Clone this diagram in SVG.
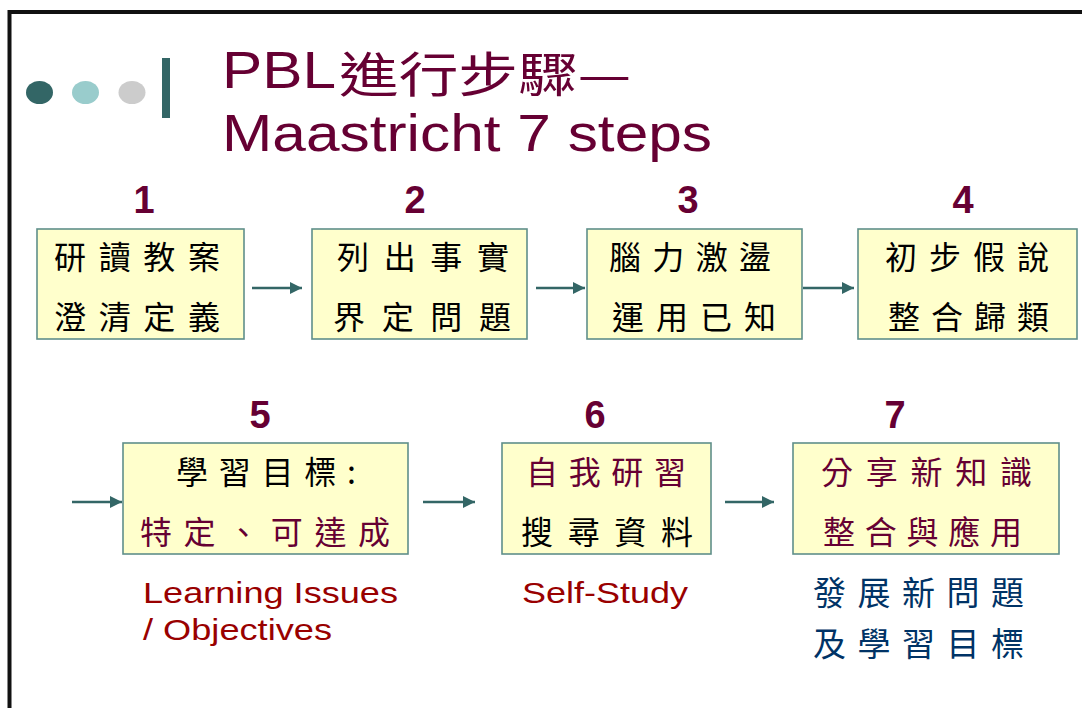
<svg xmlns="http://www.w3.org/2000/svg" width="1082" height="708" viewBox="0 0 1082 708">
<style>
.box{fill:#FFFFCC;stroke:#5F8F8A;stroke-width:1.6}
.cjk{font-family:"Noto Sans CJK TC","Noto Sans CJK SC",sans-serif;font-size:32px}
.blk{fill:#000}
.mar{fill:#660033}
.num{font-family:"Liberation Sans",Arial,sans-serif;font-weight:bold;font-size:38px;fill:#660033;text-anchor:middle}
.en{font-family:"Liberation Sans",Arial,sans-serif;font-size:29px;fill:#990000}
.title{font-family:"Liberation Sans",Arial,sans-serif;font-size:52px;fill:#660033}
.titlecjk{font-family:"Noto Sans CJK TC","Noto Sans CJK SC",sans-serif;font-size:48px;fill:#660033}
.navy{font-family:"Noto Sans CJK TC","Noto Sans CJK SC",sans-serif;font-size:33px;fill:#003366}
.conn{stroke:#336666;stroke-width:2.5;fill:none}
</style>
<defs>
<marker id="ah" viewBox="0 0 10 10" refX="10" refY="5" markerWidth="5.5" markerHeight="4.8" orient="auto" markerUnits="strokeWidth">
<path d="M0,0 L10,5 L0,10 z" fill="#336666"/>
</marker>
</defs>
<rect x="0" y="0" width="1082" height="708" fill="#fff"/>
<rect x="9.5" y="12" width="1200" height="900" fill="none" stroke="#111" stroke-width="4"/>
<g id="decor">
<ellipse cx="39.5" cy="92.5" rx="13.5" ry="11.5" fill="#336666"/>
<ellipse cx="85.5" cy="92.5" rx="13.5" ry="11.5" fill="#99CCCC"/>
<ellipse cx="132" cy="92.5" rx="13.5" ry="11.5" fill="#CCCCCC"/>
<rect x="162" y="58" width="8" height="60" fill="#336666"/>
</g>
<g id="title">
<text class="title" x="222" y="88" textLength="114" lengthAdjust="spacingAndGlyphs">PBL</text>
<text class="titlecjk" x="339" y="92" textLength="292" lengthAdjust="spacingAndGlyphs">進行步驟—</text>
<text class="title" x="222" y="151" textLength="490" lengthAdjust="spacingAndGlyphs">Maastricht 7 steps</text>
</g>
<g id="connectors">
<line class="conn" x1="252" y1="288" x2="302" y2="288" marker-end="url(#ah)"/>
<line class="conn" x1="536" y1="288" x2="585" y2="288" marker-end="url(#ah)"/>
<line class="conn" x1="803" y1="288" x2="854" y2="288" marker-end="url(#ah)"/>
<line class="conn" x1="72" y1="502" x2="122" y2="502" marker-end="url(#ah)"/>
<line class="conn" x1="423" y1="502" x2="475" y2="502" marker-end="url(#ah)"/>
<line class="conn" x1="725" y1="502" x2="774" y2="502" marker-end="url(#ah)"/>
</g>
<g id="step1">
<text class="num" x="144" y="213">1</text>
<rect class="box" x="37" y="229" width="207" height="110"/>
<text class="cjk blk" x="54" y="269" textLength="166" lengthAdjust="spacing">研讀教案</text>
<text class="cjk blk" x="54" y="329" textLength="166" lengthAdjust="spacing">澄清定義</text>
</g>
<g id="step2">
<text class="num" x="415" y="213">2</text>
<rect class="box" x="312" y="229" width="215" height="110"/>
<text class="cjk blk" x="337" y="269" textLength="172" lengthAdjust="spacing">列出事實</text>
<text class="cjk blk" x="333" y="329" textLength="178" lengthAdjust="spacing">界定問題</text>
</g>
<g id="step3">
<text class="num" x="688" y="213">3</text>
<rect class="box" x="587" y="229" width="215" height="110"/>
<text class="cjk blk" x="609" y="269" textLength="162" lengthAdjust="spacing">腦力激盪</text>
<text class="cjk blk" x="612" y="329" textLength="164" lengthAdjust="spacing">運用已知</text>
</g>
<g id="step4">
<text class="num" x="963" y="213">4</text>
<rect class="box" x="858" y="229" width="219" height="110"/>
<text class="cjk blk" x="885" y="269" textLength="164" lengthAdjust="spacing">初步假說</text>
<text class="cjk blk" x="888" y="329" textLength="161" lengthAdjust="spacing">整合歸類</text>
</g>
<g id="step5">
<text class="num" x="260" y="428">5</text>
<rect class="box" x="123" y="443" width="285" height="111"/>
<text class="cjk blk" x="176" y="484" textLength="180" lengthAdjust="spacing">學習目標:</text>
<text class="cjk mar" x="140" y="544" textLength="250" lengthAdjust="spacing">特定、可達成</text>
<text class="en" x="143" y="603" textLength="255" lengthAdjust="spacingAndGlyphs">Learning Issues</text>
<text class="en" x="143" y="640" textLength="189" lengthAdjust="spacingAndGlyphs">/ Objectives</text>
</g>
<g id="step6">
<text class="num" x="595" y="428">6</text>
<rect class="box" x="502" y="443" width="209" height="111"/>
<text class="cjk mar" x="526" y="484" textLength="160" lengthAdjust="spacing">自我研習</text>
<text class="cjk blk" x="521" y="544" textLength="172" lengthAdjust="spacing">搜尋資料</text>
<text class="en" x="522" y="603" textLength="166" lengthAdjust="spacingAndGlyphs">Self-Study</text>
</g>
<g id="step7">
<text class="num" x="895" y="428">7</text>
<rect class="box" x="793" y="443" width="266" height="111"/>
<text class="cjk mar" x="821" y="484" textLength="211" lengthAdjust="spacing">分享新知識</text>
<text class="cjk mar" x="823" y="544" textLength="199" lengthAdjust="spacing">整合與應用</text>
<text class="navy" x="813" y="605" textLength="211" lengthAdjust="spacing">發展新問題</text>
<text class="navy" x="813" y="656" textLength="211" lengthAdjust="spacing">及學習目標</text>
</g>
</svg>
